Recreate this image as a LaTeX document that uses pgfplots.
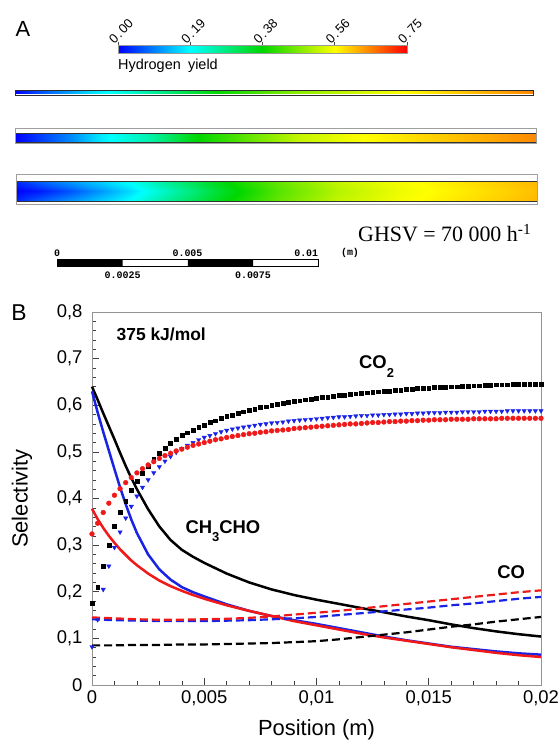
\documentclass[border=0pt]{standalone}
\usepackage{fontspec}
\setmainfont{Liberation Sans}
\newfontfamily\seriff{Liberation Serif}
\newfontfamily\monof{Liberation Mono}
\usepackage{pgfplots}
\usepackage{pgfplotstable}
\pgfplotsset{compat=1.18}
\definecolor{cblue}{RGB}{25,35,230}
\definecolor{cred}{RGB}{240,25,25}
\newcommand{\cbsp}{\hspace{0.1em}}
\pgfplotsset{
  colormap={hyd}{rgb255(0cm)=(0,0,255) rgb255(1cm)=(0,255,255) rgb255(2cm)=(0,215,0) rgb255(3cm)=(255,255,0) rgb255(4cm)=(255,0,0)},
  chan/.style={scale only axis, anchor=south west, xmin=0, xmax=0.02, xtick=\empty, ytick=\empty,
    colormap name=hyd, point meta min=0, point meta max=0.75, axis on top},
}
% CO2 selectivity (markers)
\pgfplotstableread{
x k b r
0.00000 0.175 0.082 0.324
0.00025 0.210 0.140 0.347
0.00050 0.255 0.205 0.370
0.00075 0.300 0.255 0.390
0.00100 0.340 0.295 0.407
0.00125 0.370 0.328 0.421
0.00150 0.395 0.358 0.434
0.00175 0.417 0.383 0.445
0.00200 0.437 0.405 0.455
0.00225 0.454 0.424 0.464
0.00250 0.470 0.440 0.472
0.00275 0.484 0.455 0.479
0.00300 0.497 0.468 0.486
0.00325 0.508 0.480 0.492
0.00350 0.518 0.490 0.497
0.00375 0.527 0.499 0.502
0.00400 0.535 0.507 0.506
0.00425 0.541 0.514 0.510
0.00450 0.547 0.520 0.514
0.00475 0.553 0.526 0.517
0.00500 0.558 0.531 0.520
0.00525 0.563 0.535 0.523
0.00550 0.567 0.539 0.526
0.00575 0.572 0.543 0.528
0.00600 0.576 0.546 0.531
0.00625 0.579 0.549 0.533
0.00650 0.583 0.551 0.535
0.00675 0.586 0.553 0.537
0.00700 0.589 0.555 0.539
0.00725 0.592 0.557 0.540
0.00750 0.595 0.559 0.542
0.00775 0.597 0.560 0.543
0.00800 0.600 0.562 0.545
0.00825 0.602 0.563 0.546
0.00850 0.604 0.564 0.547
0.00875 0.606 0.566 0.548
0.00900 0.608 0.567 0.550
0.00925 0.610 0.568 0.551
0.00950 0.612 0.569 0.552
0.00975 0.613 0.570 0.553
0.01000 0.615 0.571 0.554
0.01025 0.617 0.572 0.555
0.01050 0.618 0.573 0.556
0.01075 0.620 0.574 0.557
0.01100 0.621 0.575 0.558
0.01125 0.622 0.575 0.559
0.01150 0.624 0.576 0.560
0.01175 0.625 0.577 0.560
0.01200 0.626 0.578 0.561
0.01225 0.627 0.578 0.562
0.01250 0.628 0.579 0.563
0.01275 0.629 0.579 0.563
0.01300 0.630 0.580 0.564
0.01325 0.631 0.580 0.565
0.01350 0.632 0.581 0.565
0.01375 0.633 0.581 0.566
0.01400 0.634 0.582 0.566
0.01425 0.635 0.582 0.567
0.01450 0.636 0.583 0.567
0.01475 0.636 0.583 0.568
0.01500 0.637 0.584 0.568
0.01525 0.638 0.584 0.569
0.01550 0.639 0.584 0.569
0.01575 0.639 0.585 0.569
0.01600 0.640 0.585 0.570
0.01625 0.640 0.585 0.570
0.01650 0.641 0.586 0.570
0.01675 0.641 0.586 0.570
0.01700 0.642 0.586 0.571
0.01725 0.642 0.586 0.571
0.01750 0.643 0.587 0.571
0.01775 0.643 0.587 0.571
0.01800 0.644 0.587 0.571
0.01825 0.644 0.587 0.572
0.01850 0.644 0.588 0.572
0.01875 0.645 0.588 0.572
0.01900 0.645 0.588 0.572
0.01925 0.645 0.588 0.572
0.01950 0.645 0.588 0.572
0.01975 0.646 0.588 0.572
0.02000 0.646 0.588 0.572
}\coTwo
% CH3CHO selectivity (solid lines)
\pgfplotstableread{
x k b r
0       0.640 0.630 0.378
0.00025 0.612 0.585 0.356
0.0005  0.583 0.543 0.337
0.00075 0.555 0.503 0.320
0.001   0.527 0.463 0.305
0.00125 0.498 0.424 0.291
0.0015  0.470 0.388 0.279
0.00175 0.444 0.355 0.267
0.002   0.420 0.326 0.257
0.0025  0.377 0.280 0.239
0.003   0.340 0.248 0.224
0.0035  0.311 0.226 0.212
0.004   0.290 0.210 0.202
0.0045  0.275 0.199 0.193
0.005   0.262 0.190 0.185
0.006   0.239 0.173 0.171
0.007   0.220 0.159 0.159
0.008   0.205 0.148 0.148
0.009   0.193 0.139 0.137
0.010   0.183 0.131 0.128
0.011   0.174 0.122 0.119
0.012   0.165 0.113 0.110
0.013   0.156 0.104 0.102
0.014   0.147 0.096 0.095
0.015   0.139 0.089 0.088
0.016   0.130 0.082 0.081
0.017   0.122 0.077 0.075
0.018   0.115 0.072 0.069
0.019   0.109 0.068 0.064
0.020   0.104 0.065 0.060
}\chLines
% CO selectivity (dashed lines)
\pgfplotstableread{
x k b r
0      0.085 0.141 0.145
0.001  0.085 0.139 0.143
0.002  0.086 0.138 0.141
0.003  0.086 0.137 0.140
0.004  0.087 0.137 0.140
0.005  0.087 0.137 0.141
0.006  0.088 0.138 0.142
0.007  0.089 0.139 0.144
0.008  0.090 0.141 0.147
0.009  0.092 0.143 0.151
0.010  0.094 0.146 0.155
0.011  0.098 0.150 0.159
0.012  0.103 0.154 0.164
0.013  0.108 0.158 0.169
0.014  0.113 0.162 0.174
0.015  0.119 0.166 0.179
0.016  0.125 0.171 0.184
0.017  0.130 0.175 0.189
0.018  0.136 0.180 0.194
0.019  0.141 0.185 0.199
0.020  0.146 0.189 0.203
}\coLines
\begin{document}
\begin{tikzpicture}
\path[use as bounding box] (0bp,0bp) rectangle (559bp,-740bp);
% ---------------- Panel A ----------------
\node[font=\fontsize{22}{24}\selectfont] at (23bp,-29bp) {A};
% colour bar
\begin{axis}[at={(118bp,-53.3bp)}, anchor=south west, scale only axis,
  width=289bp, height=7.6bp, xmin=0, xmax=0.75, ymin=0, ymax=1,
  colormap name=hyd, point meta min=0, point meta max=0.75,
  axis line style={gray!80, line width=0.6pt}, axis on top,
  xtick={0,0.1875,0.375,0.5625,0.75},
  xticklabels={0\cbsp.\cbsp00,0\cbsp.\cbsp19,0\cbsp.\cbsp38,0\cbsp.\cbsp56,0\cbsp.\cbsp75},
  ytick=\empty, xtick pos=right, xticklabel pos=right, tick align=outside,
  major tick length=4bp, tick style={gray!60!black, line width=0.5pt},
  xticklabel style={rotate=45, anchor=south west, font=\fontsize{13}{13}\selectfont, inner sep=0.5pt, xshift=-5bp}]
\addplot[surf, shader=interp, mesh/rows=2, mesh/cols=5, point meta=explicit] table[meta=v] {
x y v
0 0 0
0.1875 0 0.1875
0.375 0 0.375
0.5625 0 0.5625
0.75 0 0.75
0 1 0
0.1875 1 0.1875
0.375 1 0.375
0.5625 1 0.5625
0.75 1 0.75
};
\end{axis}
\node[anchor=west, inner sep=0pt, font=\fontsize{14.5}{16}\selectfont] at (118bp,-66bp) {Hydrogen\hspace{0.5em}yield};
% channel 1 (thin)
\begin{axis}[chan, at={(15bp,-95bp)}, width=518bp, height=5bp, ymin=0, ymax=5,
  axis line style={gray!35!black, line width=1pt}]
\addplot[surf, shader=interp, mesh/rows=2, mesh/cols=9, point meta=explicit] table[meta=v] {
x y v
0 1.2 0.0
0.000965 1.2 0.06
0.002896 1.2 0.16
0.00444 1.2 0.22
0.007915 1.2 0.38
0.011004 1.2 0.48
0.014865 1.2 0.56
0.017568 1.2 0.61
0.02 1.2 0.65
0 3.8 0.0
0.000965 3.8 0.06
0.002896 3.8 0.16
0.00444 3.8 0.22
0.007915 3.8 0.38
0.011004 3.8 0.48
0.014865 3.8 0.56
0.017568 3.8 0.61
0.02 3.8 0.65
};
\end{axis}
% channel 2
\begin{axis}[chan, at={(15bp,-143.5bp)}, width=521.7bp, height=15bp, ymin=0, ymax=15,
  axis line style={gray!75, line width=0.8pt}]
\addplot[surf, shader=interp, mesh/rows=2, mesh/cols=12, point meta=explicit] table[meta=v] {
x y v
0 1 0.0
0.000958 1 0.045
0.00211 1 0.10
0.00326 1 0.17
0.00518 1 0.25
0.0069 1 0.37
0.00901 1 0.45
0.01093 1 0.52
0.01323 1 0.56
0.01553 1 0.59
0.01783 1 0.62
0.02 1 0.65
0 10.5 0.0
0.000958 10.5 0.045
0.00211 10.5 0.10
0.00326 10.5 0.17
0.00518 10.5 0.25
0.0069 10.5 0.37
0.00901 10.5 0.45
0.01093 10.5 0.52
0.01323 10.5 0.56
0.01553 10.5 0.59
0.01783 10.5 0.62
0.02 10.5 0.65
};
\addplot[gray!40!black, line width=0.8pt] coordinates {(0,10.5) (0.02,10.5)};
\addplot[gray!40!black, line width=0.8pt] coordinates {(0,1) (0.02,1)};
\end{axis}
% channel 3
\begin{axis}[chan, at={(16.7bp,-204bp)}, width=521bp, height=30bp, ymin=0, ymax=30,
  axis line style={gray!75, line width=0.8pt}]
\addplot[surf, shader=interp, mesh/rows=5, mesh/cols=12, point meta=explicit] table[meta=v] {
x y v
0 3 0.03
0.000894 3 0.07
0.002046 3 0.11
0.003198 3 0.15
0.004349 3 0.19
0.005885 3 0.27
0.007996 3 0.37
0.010107 3 0.45
0.012411 3 0.52
0.014714 3 0.555
0.017401 3 0.585
0.02 3 0.615
0 7.83 0.015
0.000894 7.83 0.045
0.002046 7.83 0.085
0.003198 7.83 0.13
0.004349 7.83 0.175
0.005885 7.83 0.255
0.007996 7.83 0.36
0.010107 7.83 0.445
0.012411 7.83 0.515
0.014714 7.83 0.553
0.017401 7.83 0.583
0.02 7.83 0.613
0 12.65 0.0
0.000894 12.65 0.02
0.002046 12.65 0.06
0.003198 12.65 0.11
0.004349 12.65 0.16
0.005885 12.65 0.24
0.007996 12.65 0.35
0.010107 12.65 0.44
0.012411 12.65 0.51
0.014714 12.65 0.55
0.017401 12.65 0.58
0.02 12.65 0.61
0 17.48 0.015
0.000894 17.48 0.045
0.002046 17.48 0.085
0.003198 17.48 0.13
0.004349 17.48 0.175
0.005885 17.48 0.255
0.007996 17.48 0.36
0.010107 17.48 0.445
0.012411 17.48 0.515
0.014714 17.48 0.553
0.017401 17.48 0.583
0.02 17.48 0.613
0 22.3 0.03
0.000894 22.3 0.07
0.002046 22.3 0.11
0.003198 22.3 0.15
0.004349 22.3 0.19
0.005885 22.3 0.27
0.007996 22.3 0.37
0.010107 22.3 0.45
0.012411 22.3 0.52
0.014714 22.3 0.555
0.017401 22.3 0.585
0.02 22.3 0.615
};
\addplot[gray!40!black, line width=0.8pt] coordinates {(0,22.3) (0.02,22.3)};
\addplot[gray!40!black, line width=0.8pt] coordinates {(0,3) (0.02,3)};
\end{axis}
\node[anchor=west, inner sep=0pt, font=\seriff\fontsize{22}{24}\selectfont] at (358bp,-233bp) {GHSV = 70 000 h\textsuperscript{-1}};
% scale bar
\begin{axis}[at={(57.2bp,-266.7bp)}, anchor=south west, scale only axis,
  width=261.2bp, height=7.4bp, xmin=0, xmax=0.01, ymin=0, ymax=1,
  xtick=\empty, ytick=\empty, axis on top, axis line style={black, line width=0.8pt}]
\addplot[ybar interval, fill=black, draw=none] coordinates {(0,1) (0.0025,0) (0.005,1) (0.0075,0) (0.01,0)};
\end{axis}
\begin{scope}[every node/.style={font=\monof\bfseries\fontsize{10}{10}\selectfont, inner sep=0pt}]
\node at (57.2bp,-253.3bp) {0};
\node at (187.5bp,-253.3bp) {0.005};
\node[anchor=east] at (318.4bp,-253.3bp) {0.01};
\node at (350bp,-253.3bp) {(m)};
\node at (122.6bp,-275.7bp) {0.0025};
\node at (253bp,-275.7bp) {0.0075};
\end{scope}
% ---------------- Panel B ----------------
\node[font=\fontsize{23}{25}\selectfont] at (19bp,-313bp) {B};
\begin{axis}[at={(92bp,-685bp)}, anchor=south west, scale only axis,
  width=449bp, height=373bp,
  xmin=0, xmax=0.02, ymin=0, ymax=0.8, clip=false,
  axis line style={gray!85, line width=0.8pt},
  tick style={black!75, line width=0.6pt},
  tick align=inside, xtick pos=left, ytick pos=left,
  xtick={0,0.005,0.01,0.015,0.02},
  xticklabels={0,{0,005},{0,01},{0,015},{0,02}},
  ytick={0,0.1,0.2,0.3,0.4,0.5,0.6,0.7,0.8},
  yticklabels={0,{0,1},{0,2},{0,3},{0,4},{0,5},{0,6},{0,7},{0,8}},
  minor x tick num=4, minor y tick num=4,
  major tick length=7bp, minor tick length=4bp,
  scaled x ticks=false,
  ticklabel style={font=\fontsize{18.5}{20}\selectfont},
  yticklabel style={xshift=-6bp},
  xticklabel style={yshift=-2bp},
  xlabel={Position (m)}, ylabel={Selectivity},
  label style={font=\fontsize{22}{24}\selectfont},
  xlabel style={at={(axis description cs:0.5,-0.1206)}, anchor=center},
  ylabel style={at={(axis description cs:-0.156,0.5)}, anchor=center},
]
\addplot[black, line width=2.5bp] table[x=x, y=k] {\chLines};
\addplot[cblue, line width=2.5bp] table[x=x, y=b] {\chLines};
\addplot[cred, line width=2.5bp] table[x=x, y=r] {\chLines};
\addplot[black, line width=2.2bp, dash pattern=on 8bp off 4bp] table[x=x, y=k] {\coLines};
\addplot[cblue, line width=2.2bp, dash pattern=on 8bp off 4bp] table[x=x, y=b] {\coLines};
\addplot[cred, line width=2.2bp, dash pattern=on 8bp off 4bp] table[x=x, y=r] {\coLines};
\addplot[only marks, mark=square*, mark size=1.9bp, black] table[x=x, y=k] {\coTwo};
\addplot[only marks, mark=triangle*, mark size=2.5bp, cblue, mark options={rotate=180}] table[x=x, y=b] {\coTwo};
\addplot[only marks, mark=*, mark size=2.4bp, cred] table[x=x, y=r] {\coTwo};
\node[anchor=west, font=\bfseries\fontsize{17.5}{19}\selectfont] at (axis cs:0.00094,0.753) {375 kJ/mol};
\node[anchor=base west, inner sep=0pt, font=\bfseries\fontsize{18.5}{20}\selectfont] at (axis cs:0.01189,0.678) {CO\raisebox{-0.45em}{\fontsize{13}{13}\selectfont 2}};
\node[anchor=base west, inner sep=0pt, font=\bfseries\fontsize{18.5}{20}\selectfont] at (axis cs:0.004156,0.325) {CH\raisebox{-0.45em}{\fontsize{13}{13}\selectfont 3}CHO};
\node[anchor=base west, inner sep=0pt, font=\bfseries\fontsize{18.5}{20}\selectfont] at (axis cs:0.01805,0.2286) {CO};
\end{axis}
\end{tikzpicture}
\end{document}
